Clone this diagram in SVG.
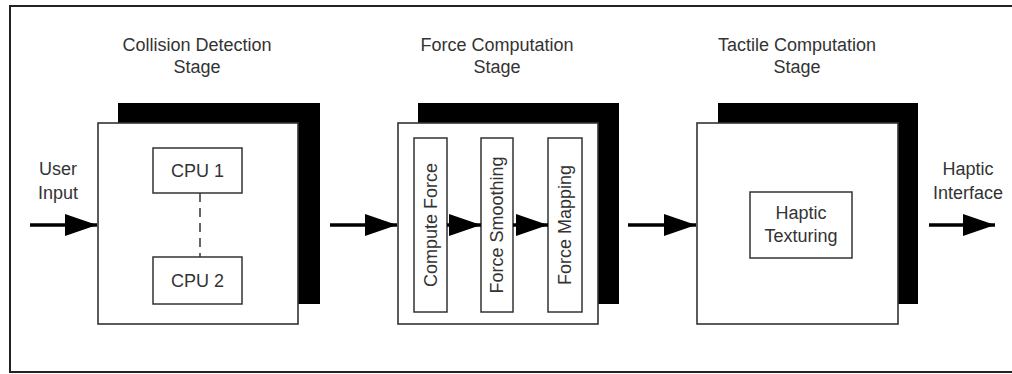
<svg xmlns="http://www.w3.org/2000/svg" width="1012" height="374" viewBox="0 0 1012 374">
<defs>
<style>
text{font-family:"Liberation Sans",Arial,sans-serif;font-size:18px;fill:#333;text-anchor:middle}
.shadow{fill:#000}
.box{fill:#fff;stroke:#333;stroke-width:1.6}
.inner{fill:#fff;stroke:#333;stroke-width:1.5}
.arrow{stroke:#000;stroke-width:3.5;fill:none;marker-end:url(#ah)}
</style>
<marker id="ah" viewBox="0 0 32 22" refX="32" refY="11" markerWidth="32" markerHeight="22" markerUnits="userSpaceOnUse" orient="auto">
<path d="M0,0 L32,11 L0,22 Z" fill="#000"/>
</marker>
</defs>
<rect x="0" y="0" width="1012" height="374" fill="#fff"/>
<path d="M1012,6 H10 V372 H1012" fill="none" stroke="#222" stroke-width="2"/>

<g id="stage-collision">
<text x="197" y="51">Collision Detection</text>
<text x="197" y="73">Stage</text>
<rect class="shadow" x="118" y="103" width="202" height="201"/>
<rect class="box" x="98" y="123" width="200" height="201"/>
</g>
<g id="cpu1">
<rect class="inner" x="153" y="148" width="89" height="45"/>
<text x="197.5" y="177">CPU 1</text>
</g>
<g id="cpu2">
<rect class="inner" x="153" y="257" width="89" height="47"/>
<text x="197.5" y="287">CPU 2</text>
</g>

<g id="stage-force">
<text x="497" y="51">Force Computation</text>
<text x="497" y="73">Stage</text>
<rect class="shadow" x="418" y="103" width="201" height="201"/>
<rect class="box" x="398" y="123" width="200" height="201"/>
</g>
<g id="compute-force">
<rect class="inner" x="414" y="138" width="33" height="174"/>
<text transform="translate(437,225) rotate(-90)">Compute Force</text>
</g>
<g id="force-smoothing">
<rect class="inner" x="481" y="138" width="32" height="174"/>
<text transform="translate(503,225) rotate(-90)">Force Smoothing</text>
</g>
<g id="force-mapping">
<rect class="inner" x="548" y="138" width="34" height="174"/>
<text transform="translate(571,225) rotate(-90)">Force Mapping</text>
</g>

<g id="stage-tactile">
<text x="797" y="51">Tactile Computation</text>
<text x="797" y="73">Stage</text>
<rect class="shadow" x="718" y="103" width="200" height="201"/>
<rect class="box" x="697" y="123" width="201" height="201"/>
</g>
<g id="haptic-texturing">
<rect class="inner" x="750" y="192" width="102" height="66"/>
<text x="801" y="219">Haptic</text>
<text x="801" y="242">Texturing</text>
</g>

<g id="user-input">
<text x="58" y="175">User</text>
<text x="58" y="199">Input</text>
</g>
<g id="haptic-interface">
<text x="968" y="175">Haptic</text>
<text x="968" y="199">Interface</text>
</g>

<g id="connectors">
<line x1="200" y1="193" x2="200" y2="257" stroke="#333" stroke-width="1.5" stroke-dasharray="9,6"/>
<line class="arrow" x1="30" y1="225" x2="97" y2="225"/>
<line class="arrow" x1="330" y1="225" x2="397" y2="225"/>
<line class="arrow" x1="447" y1="225" x2="481" y2="225"/>
<line class="arrow" x1="513" y1="225" x2="548" y2="225"/>
<line class="arrow" x1="628" y1="225" x2="696" y2="225"/>
<line class="arrow" x1="929" y1="225" x2="995" y2="225"/>
</g>
</svg>
